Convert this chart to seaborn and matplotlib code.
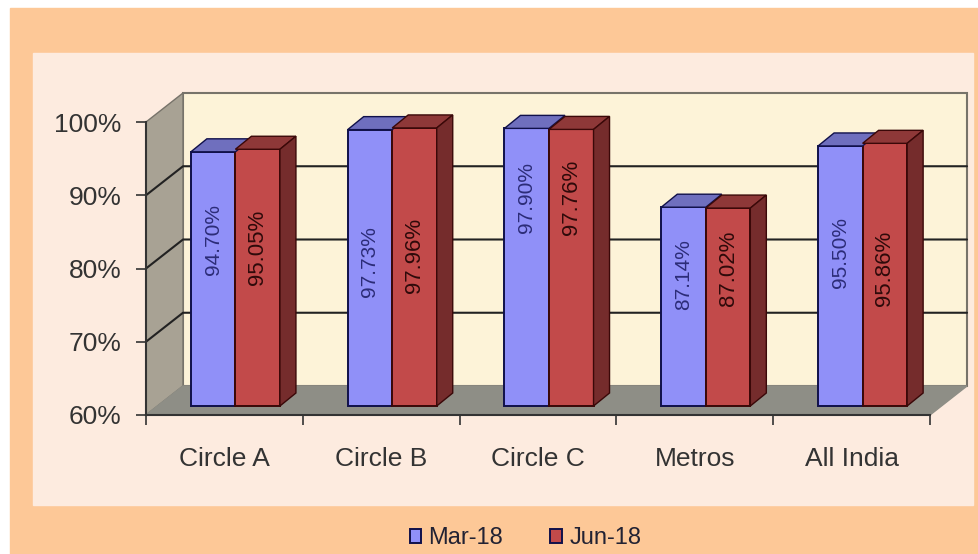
import matplotlib
matplotlib.use('Agg')
import matplotlib.pyplot as plt
from matplotlib.patches import Rectangle, Polygon
import pandas as pd
import seaborn as sns

categories = ['Circle A', 'Circle B', 'Circle C', 'Metros', 'All India']
mar18 = [94.70, 97.73, 97.90, 87.14, 95.50]
jun18 = [95.05, 97.96, 97.76, 87.02, 95.86]
mar18_text = ['94.70%', '97.73%', '97.90%', '87.14%', '95.50%']
jun18_text = ['95.05%', '97.96%', '97.76%', '87.02%', '95.86%']
# height of the rotated labels inside the bars
mar18_label_at = [82.7, 79.7, 88.5, 77.9, 80.9]
jun18_label_at = [81.7, 80.6, 88.5, 78.8, 78.8]
yticks = [60, 70, 80, 90, 100]

W, H = 979, 554
PX_X = 156.8    # pixels per category
PX_Y = 7.325    # pixels per percent

sns.set_theme(style='white')
plt.rcParams['font.family'] = ['Liberation Sans', 'DejaVu Sans']

fig = plt.figure(figsize=(W / 100, H / 100), dpi=100, facecolor='white')


def box(x0, y0, x1, y1):
    return [x0 / W, 1 - y1 / H, (x1 - x0) / W, (y1 - y0) / H]


# orange frame and the pale panel
fig.patches.append(Rectangle((10 / W, 0), 969 / W, 1 - 8 / H, transform=fig.transFigure, color='#fdc897', zorder=-3))
fig.patches.append(Rectangle((33 / W, 1 - 505 / H), 940 / W, 452 / H, transform=fig.transFigure, color='#fdebdf', zorder=-2))

# axes front plane
ax = fig.add_axes(box(146, 122, 930, 415))
ax.patch.set_visible(False)
ax.set_yticks(yticks)
ax.set_yticklabels([f'{t}%' for t in yticks], fontsize=19, color='#333333')
ax.set_xticks([i - 0.5 for i in range(len(categories) + 1)])
ax.set_xticklabels([''] * (len(categories) + 1))
ax.set_xlim(-0.5, 4.5)
ax.set_ylim(60, 100)
for i, c in enumerate(categories):
    ax.text(i, -0.15, c, fontsize=19, color='#333333', ha='center', va='center',
            transform=ax.get_xaxis_transform(), clip_on=False)
ax.tick_params(axis='both', length=7, width=1.2, color='#333333', direction='out', left=True, bottom=True)
ax.tick_params(axis='y', pad=10.5)
for s in ['top', 'right']:
    ax.spines[s].set_visible(False)
for s in ['left', 'bottom']:
    ax.spines[s].set_color('#333333')
    ax.spines[s].set_linewidth(1.5)

dx = 37 / PX_X
dy = 29 / PX_Y
# back wall, left wall, floor
ax.add_patch(Polygon([(-0.5 + dx, 60 + dy), (4.5 + dx, 60 + dy), (4.5 + dx, 100 + dy), (-0.5 + dx, 100 + dy)],
                     fc='#fdf3d8', ec='#77736a', lw=1.5, clip_on=False, zorder=0))
ax.add_patch(Polygon([(-0.5, 60), (-0.5 + dx, 60 + dy), (-0.5 + dx, 100 + dy), (-0.5, 100)],
                     fc='#a8a294', ec='#77736a', lw=1, clip_on=False, zorder=0))
ax.add_patch(Polygon([(-0.5, 60), (-0.5 + dx, 60 + dy), (4.5 + dx, 60 + dy), (4.5, 60)],
                     fc='#8e8e86', ec='#8e8e86', lw=1, clip_on=False, zorder=0))
for t in yticks[1:-1]:
    ax.plot([-0.5, -0.5 + dx, 4.5 + dx], [t, t + dy, t + dy], color='#222222', lw=1.5, clip_on=False, zorder=1)

# bars sit a little behind the front plane
ax2 = fig.add_axes(box(146 + 11, 122 - 9, 930 + 11, 415 - 9))
ax2.patch.set_visible(False)
df = pd.DataFrame({'cat': categories * 2, 'value': mar18 + jun18,
                   'month': ['Mar-18'] * 5 + ['Jun-18'] * 5})
sns.barplot(data=df, x='cat', y='value', hue='month', palette=['#9090f8', '#c24a4a'], width=0.568,
            gap=0, edgecolor='#10104a', linewidth=1.4, ax=ax2, saturation=1, errorbar=None)
ax2.set_xlim(-0.5, 4.5)
ax2.set_ylim(60, 100)
ax2.axis('off')

bx = 16 / PX_X
by = 13 / PX_Y
mar_bars = list(ax2.containers[0])
jun_bars = list(ax2.containers[1])
for series, (edge, top_col) in zip([mar_bars, jun_bars], [('#10104a', '#6f6fbe'), ('#3a0808', '#8e3838')]):
    for bar in series:
        top = bar.get_height()
        bar.set_y(60)
        bar.set_height(top - 60)
        bar.set_clip_on(False)
        bar.set_edgecolor(edge)
        x0, x1 = bar.get_x(), bar.get_x() + bar.get_width()
        ax2.add_patch(Polygon([(x0, top), (x0 + bx, top + by), (x1 + bx, top + by), (x1, top)],
                              fc=top_col, ec=edge, lw=1, clip_on=False))
        if series is jun_bars:
            ax2.add_patch(Polygon([(x1, 60), (x1 + bx, 60 + by), (x1 + bx, top + by), (x1, top)],
                                  fc='#752c2c', ec=edge, lw=1, clip_on=False))

for bar, txt, at in zip(mar_bars, mar18_text, mar18_label_at):
    ax2.text(bar.get_x() + bar.get_width() / 2, at, txt, rotation=90, ha='center', va='center',
             fontsize=15, color='#2c2c78')
for bar, txt, at in zip(jun_bars, jun18_text, jun18_label_at):
    ax2.text(bar.get_x() + bar.get_width() / 2, at, txt, rotation=90, ha='center', va='center',
             fontsize=16, color='#2e0a0a')

sns.move_legend(ax2, loc='center', bbox_to_anchor=(525.5 / W, 1 - 538 / H), bbox_transform=fig.transFigure,
                ncol=2, frameon=False, title=None, fontsize=17, handlelength=0.5, handleheight=0.55,
                handletextpad=0.3, columnspacing=2.0, borderpad=0)
for t in ax2.get_legend().get_texts():
    t.set_color('#222233')

fig.savefig('out.png', dpi=100)
